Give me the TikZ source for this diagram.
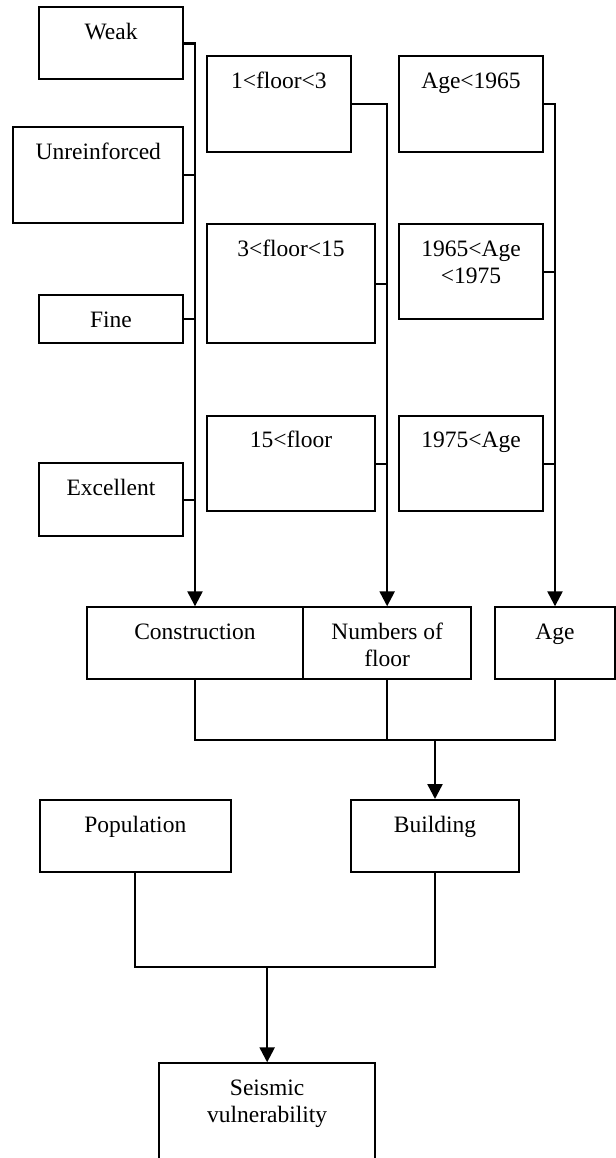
\documentclass[tikz,border=0pt]{standalone}
\usepackage{fontspec}
\setmainfont{Liberation Serif}
\usetikzlibrary{fit,arrows.meta}
\tikzset{
  box/.style={draw, line width=1pt, inner sep=0pt, rectangle},
  lbl/.style={anchor=base, inner sep=0pt, font=\fontsize{11.75}{13.75}\selectfont},
  conn/.style={line width=1pt},
  spine/.style={line width=1.2pt, -{Triangle[length=7.5pt,width=7.5pt]}},
}
\newcommand{\bx}[6]{\node[box, fit={(#2,#3) (#4,#5)}] (#1) {};
  \node[lbl] (#1t) at ([yshift=-16.5pt]#1.north) {#6};}
\newcommand{\twolines}[2]{\begin{tabular}[t]{@{}c@{}}#1\\#2\end{tabular}}
\begin{document}
\begin{tikzpicture}[x=0.5pt,y=-0.5pt]
\useasboundingbox (0,0) rectangle (616,1158);
% construction column
\bx{weak}{39}{7.3}{183.3}{79.3}{Weak}
\bx{unre}{13.3}{127.3}{183.3}{223.3}{Unreinforced}
\bx{fine}{38.7}{295.3}{183.3}{343.3}{Fine}
\bx{exce}{38.7}{463.3}{183.3}{535.7}{Excellent}
% floor column
\bx{fa}{206.7}{56}{351}{151.7}{1<floor<3}
\bx{fb}{206.7}{224}{375.3}{343.3}{3<floor<15}
\bx{fc}{206.7}{415.7}{375.3}{511.3}{15<floor}
% age column
\bx{aa}{398.7}{56}{543.3}{151.7}{Age<1965}
\bx{ab}{398.7}{224}{543.3}{319.3}{\twolines{1965<Age}{<1975}}
\bx{ac}{398.7}{415.7}{543.3}{511.3}{1975<Age}
% middle row
\bx{constr}{86.7}{607.3}{303.3}{679.3}{Construction}
\bx{numfl}{303.3}{607.3}{471}{679.3}{\twolines{Numbers of}{floor}}
\bx{age}{495}{607.3}{615}{679.3}{Age}
% lower rows
\bx{pop}{40}{800}{230.7}{871.7}{Population}
\bx{bld}{350.7}{800}{519.3}{871.7}{Building}
\bx{seis}{159}{1063.3}{375.3}{1161}{\twolines{Seismic}{vulnerability}}
% construction connectors
\draw[conn] (unre.east) -- (unre.east -| constr.north);
\draw[conn] (fine.east) -- (fine.east -| constr.north);
\draw[conn] (exce.east) -- (exce.east -| constr.north);
\draw[spine] (weak.east) -- (weak.east -| constr.north) -- (constr.north);
% floor connectors
\draw[conn] (fb.east) -- (fb.east -| numfl.north);
\draw[conn] (fc.east) -- (fc.east -| numfl.north);
\draw[spine] (fa.east) -- (fa.east -| numfl.north) -- (numfl.north);
% age connectors
\draw[conn] (ab.east) -- (ab.east -| age.north);
\draw[conn] (ac.east) -- (ac.east -| age.north);
\draw[spine] (aa.east) -- (aa.east -| age.north) -- (age.north);
% to building
\coordinate (j1) at (bld.north |- 0,739.5);
\draw[conn] (constr.south) -- (constr.south |- j1) -| (age.south);
\draw[conn] (numfl.south) -- (numfl.south |- j1);
\draw[spine] (j1) -- (bld.north);
% to seismic vulnerability
\coordinate (j2) at (seis.north |- 0,967.3);
\draw[conn] (pop.south) -- (pop.south |- j2) -| (bld.south);
\draw[spine] (j2) -- (seis.north);
\end{tikzpicture}
\end{document}
